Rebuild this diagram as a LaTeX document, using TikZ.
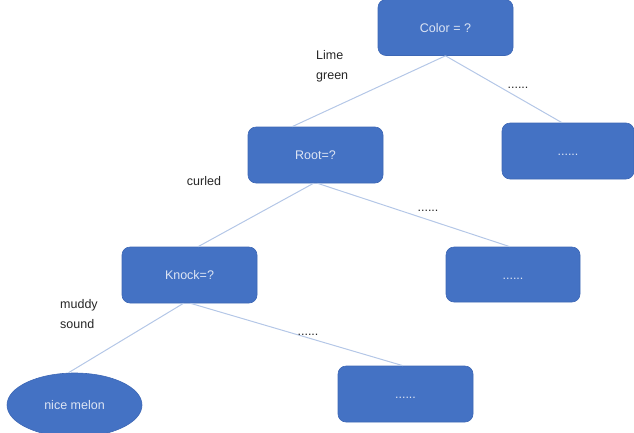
\documentclass[tikz,border=0pt]{standalone}
\usepackage{fontspec}
\setmainfont{Liberation Sans}
\usetikzlibrary{shapes.geometric}
\definecolor{boxblue}{HTML}{4472C4}
\definecolor{boxedge}{HTML}{3D67B5}
\definecolor{linkblue}{HTML}{B4C7E7}
\definecolor{boxtext}{HTML}{DDE5F4}
\definecolor{labeltext}{HTML}{262626}
\begin{document}
\begin{tikzpicture}[x=1pt,y=-1pt,
  boxnode/.style={draw=boxedge,line width=0.6pt,fill=boxblue,rounded corners=8pt,
    minimum width=135pt,minimum height=56pt,inner sep=0pt,text=boxtext,
    text height=9.5pt,text depth=0.5pt,
    font=\fontsize{12.5}{14}\selectfont},
  leafnode/.style={ellipse,draw=boxedge,line width=0.6pt,fill=boxblue,
    minimum width=135pt,minimum height=64pt,inner sep=0pt,text=boxtext,
    text height=9.5pt,text depth=0.5pt,
    font=\fontsize{12.5}{14}\selectfont},
  link/.style={draw=linkblue,line width=1pt},
  lbl/.style={text=labeltext,font=\fontsize{12.5}{20}\selectfont,inner sep=0pt,align=left}]
\useasboundingbox (0,0) rectangle (634,432);
% nodes
\node[boxnode] (color) at (445.5,27.5) {Color = ?};
\node[boxnode,minimum width=132pt] (r1) at (568,151) {......};
\node[boxnode] (root) at (315.5,155) {Root=?};
\node[boxnode,minimum width=134pt,minimum height=55pt] (r2) at (513,274.5) {......};
\node[boxnode] (knock) at (189.5,275) {Knock=?};
\node[boxnode] (r3) at (405.5,394) {......};
\node[leafnode] (leaf) at (74.5,405) {nice melon};
% connectors
\draw[link] (color.south) -- ([xshift=-23.5pt]root.north);
\draw[link] (color.south) -- ([xshift=-6pt]r1.north);
\draw[link] ([xshift=-2pt]root.south) -- ([xshift=8.5pt]knock.north);
\draw[link] ([xshift=2pt]root.south) -- ([xshift=-3pt]r2.north);
\draw[link] ([xshift=-6pt]knock.south) -- ([xshift=-6pt]leaf.north);
\draw[link] ([xshift=1pt]knock.south) -- ([xshift=-2.5pt]r3.north);
% labels
\node[lbl,anchor=north west] (l1) at (316,50) {Lime\\green};
\node[lbl] (l2) at (518,88) {......};
\node[lbl] (l3) at (204,181) {curled};
\node[lbl] (l4) at (428,211) {......};
\node[lbl,anchor=north west] (l5) at (60,299) {muddy\\sound};
\node[lbl] (l6) at (308,335) {......};
\end{tikzpicture}
\end{document}
